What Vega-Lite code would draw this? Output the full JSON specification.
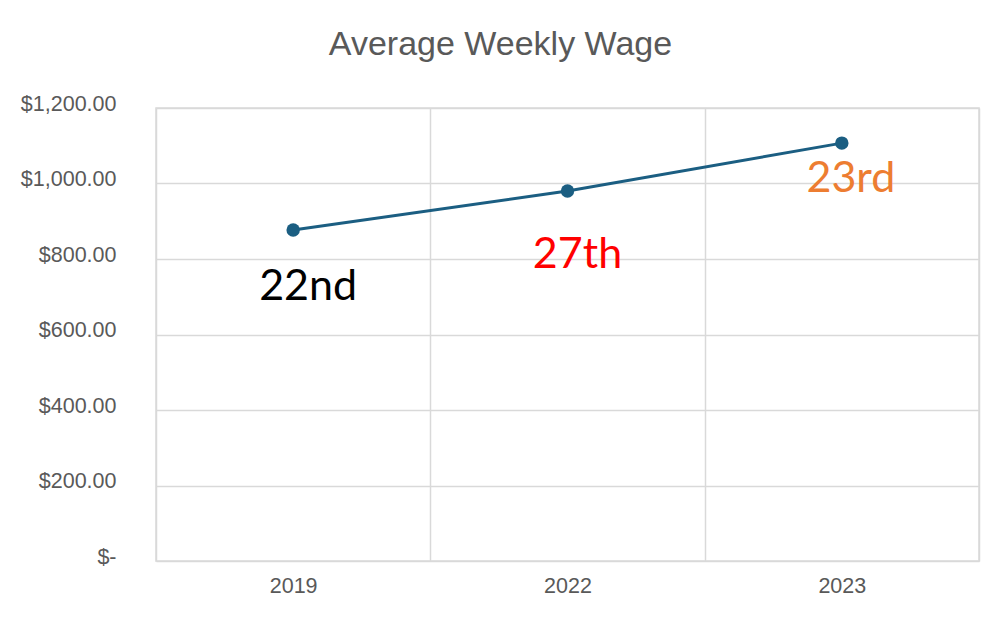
{
  "$schema": "https://vega.github.io/schema/vega-lite/v6.json",
  "autosize": "none",
  "width": 823,
  "height": 453,
  "padding": {"left": 156, "top": 108, "right": 11, "bottom": 66},
  "background": "#ffffff",
  "title": {
    "text": "Average Weekly Wage",
    "font": "Liberation Sans",
    "fontSize": 34,
    "fontWeight": "normal",
    "color": "#595959",
    "anchor": "middle",
    "frame": "group",
    "dx": -67,
    "baseline": "alphabetic",
    "offset": 4
  },
  "config": {
    "view": {"stroke": "#d9d9d9", "strokeWidth": 1.5},
    "axis": {
      "labelFont": "Liberation Sans",
      "labelFontSize": 21.5,
      "labelColor": "#595959",
      "gridColor": "#d9d9d9",
      "gridWidth": 1.5,
      "domain": false,
      "ticks": false,
      "title": null
    }
  },
  "data": {
    "values": [
      {"year": "2019", "wage": 877, "rank": "22nd"},
      {"year": "2022", "wage": 980, "rank": "27th"},
      {"year": "2023", "wage": 1107, "rank": "23rd"}
    ]
  },
  "encoding": {
    "x": {
      "field": "year",
      "type": "nominal",
      "bandPosition": 0.5,
      "scale": {"type": "band", "paddingInner": 0, "paddingOuter": 0},
      "axis": {"grid": true, "tickBand": "extent", "labelAngle": 0, "labelPadding": 14, "labelBaseline": "top"}
    },
    "y": {
      "field": "wage",
      "type": "quantitative",
      "scale": {"domain": [0, 1200], "nice": false},
      "axis": {
        "values": [0, 200, 400, 600, 800, 1000, 1200],
        "grid": true,
        "labelPadding": 40,
        "labelOffset": -4,
        "labelExpr": "datum.value == 0 ? '$-' : '$' + format(datum.value, ',.2f')"
      }
    }
  },
  "layer": [
    {"mark": {"type": "line", "color": "#1b5e82", "strokeWidth": 3}},
    {"mark": {"type": "point", "filled": true, "color": "#1b5e82", "size": 180, "opacity": 1}},
    {
      "transform": [{"filter": "datum.rank == '22nd'"}],
      "mark": {"type": "text", "font": "Lato", "fontSize": 43, "color": "#000000", "dx": 15, "dy": 70, "baseline": "alphabetic", "align": "center"},
      "encoding": {"text": {"field": "rank"}}
    },
    {
      "transform": [{"filter": "datum.rank == '27th'"}],
      "mark": {"type": "text", "font": "Lato", "fontSize": 43, "color": "#ff0000", "dx": 10, "dy": 77, "baseline": "alphabetic", "align": "center"},
      "encoding": {"text": {"field": "rank"}}
    },
    {
      "transform": [{"filter": "datum.rank == '23rd'"}],
      "mark": {"type": "text", "font": "Lato", "fontSize": 43, "color": "#ed7d31", "dx": 9, "dy": 49, "baseline": "alphabetic", "align": "center"},
      "encoding": {"text": {"field": "rank"}}
    }
  ]
}
